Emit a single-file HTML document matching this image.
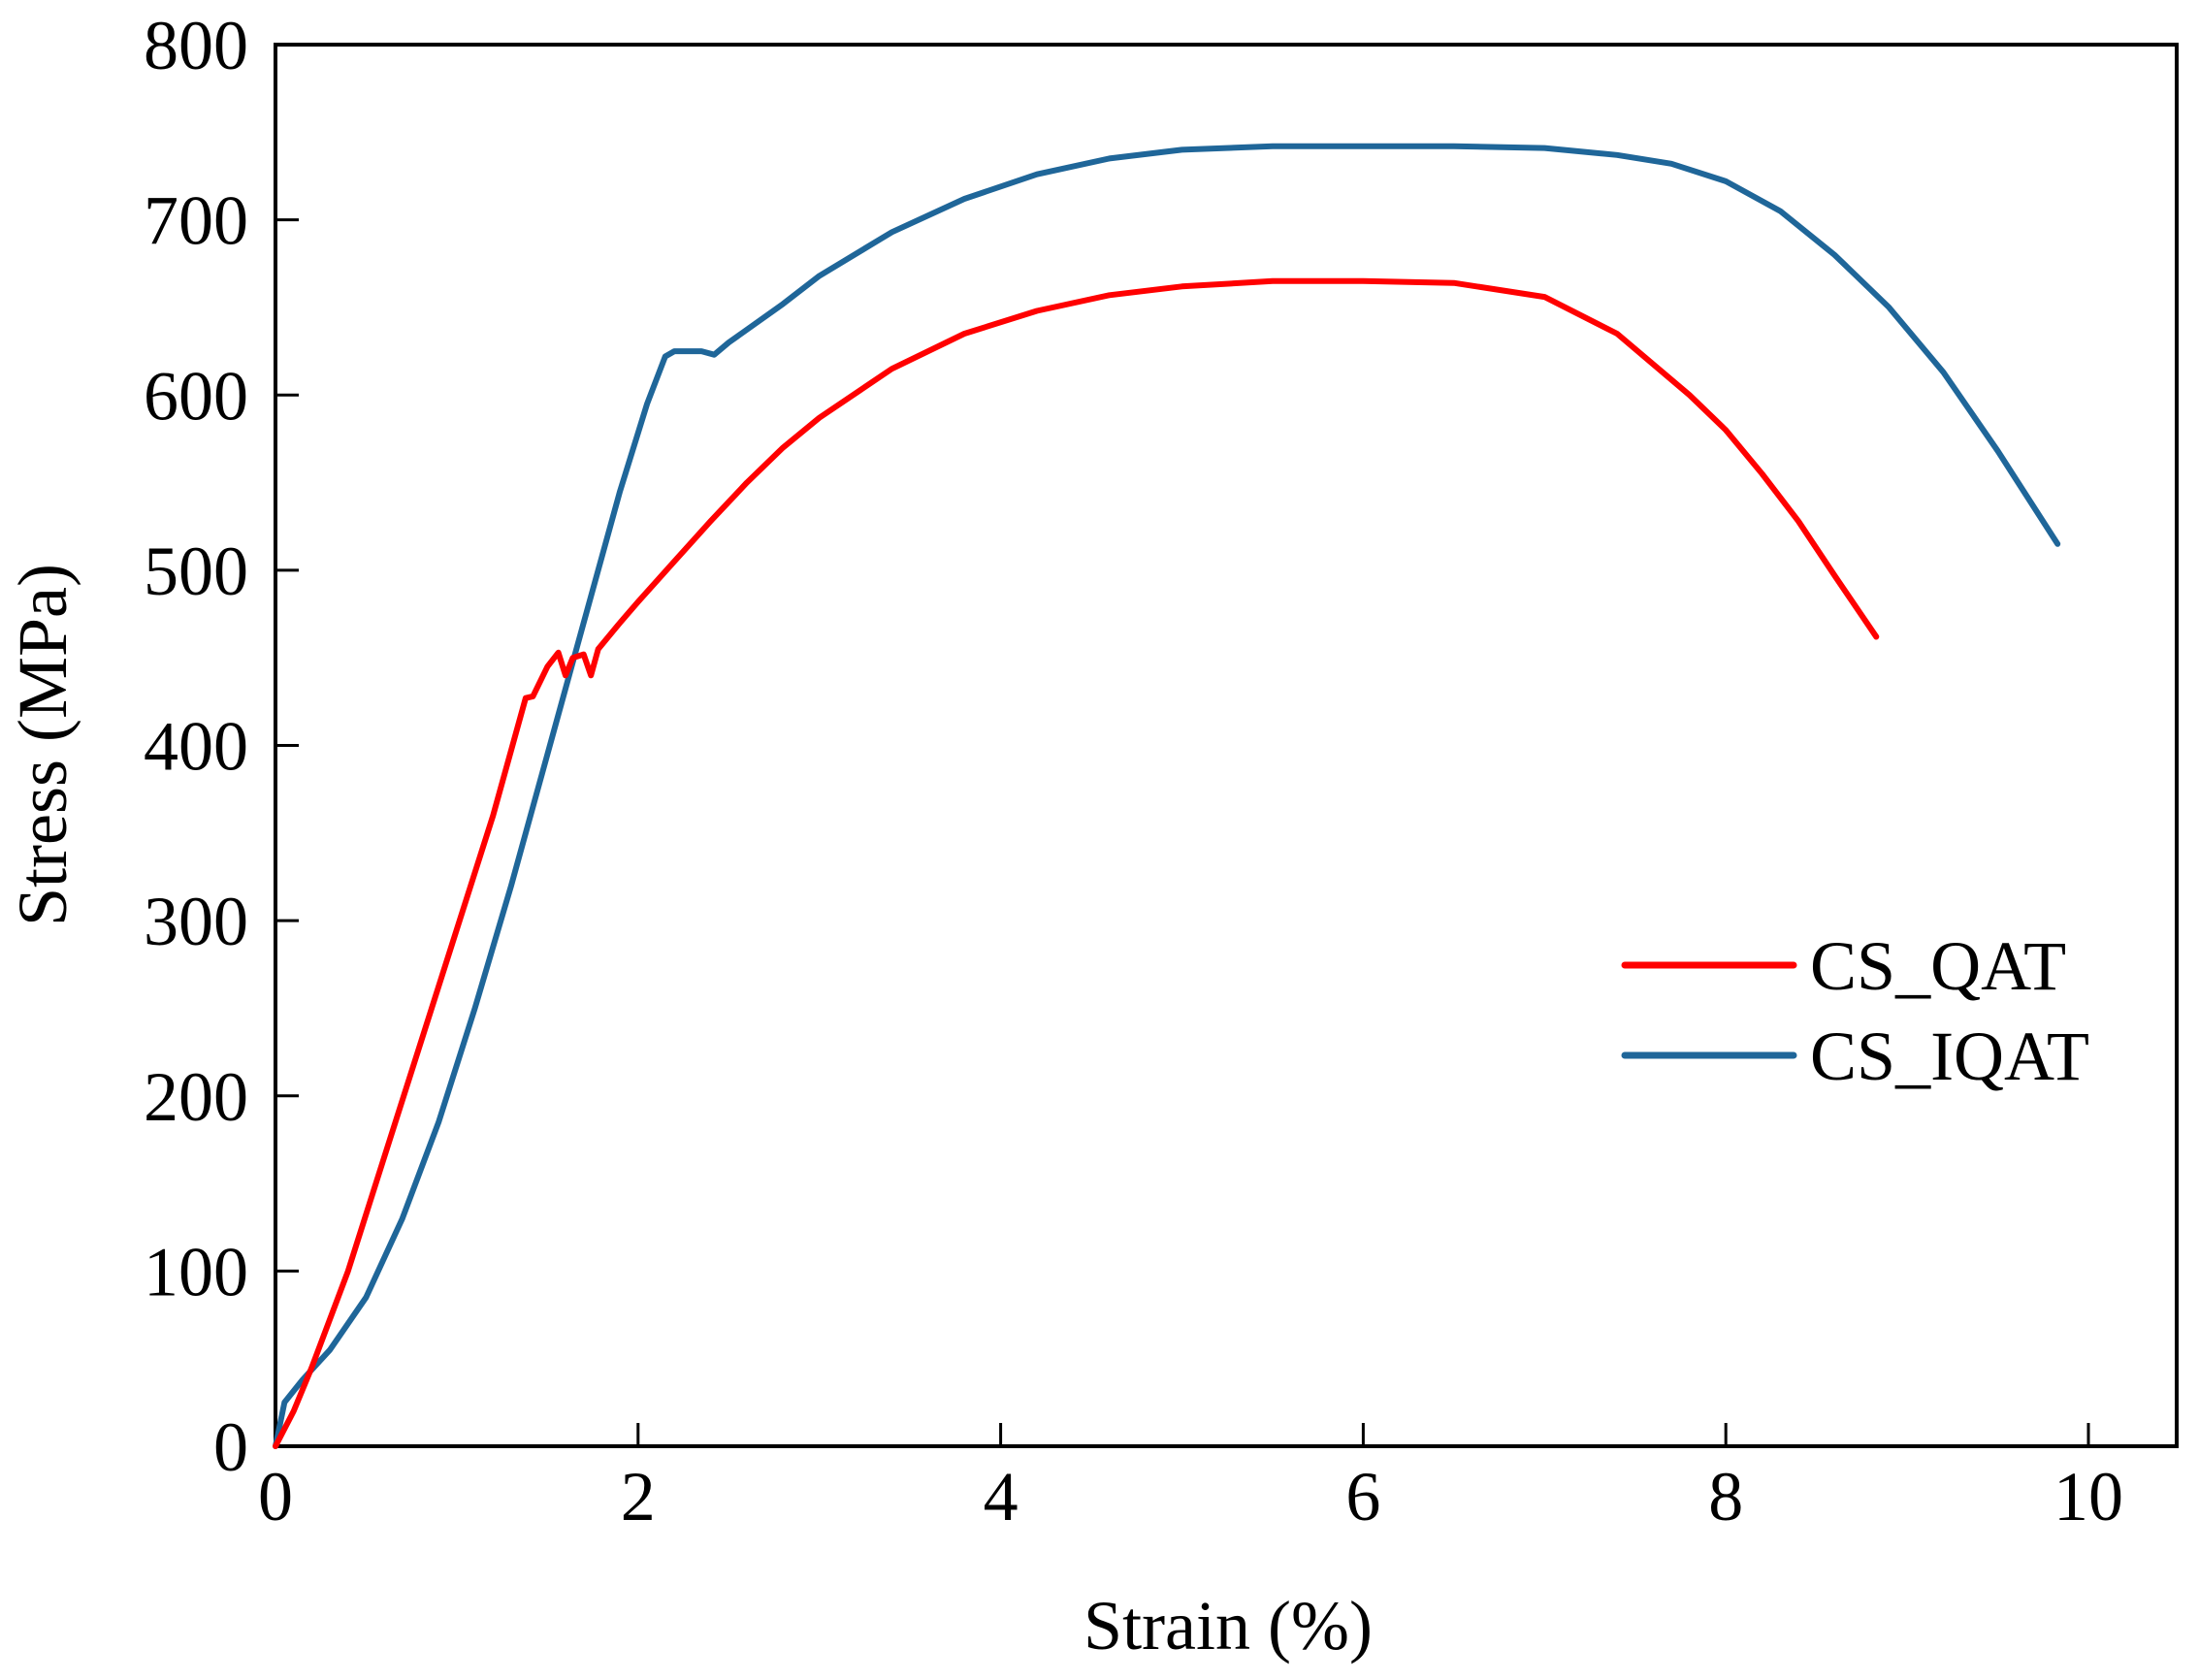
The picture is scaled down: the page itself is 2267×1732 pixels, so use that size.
<!DOCTYPE html>
<html><head><meta charset="utf-8"><style>
html,body{margin:0;padding:0;background:#fff;}
svg{display:block;font-family:"Liberation Serif",serif;}
</style></head><body>
<svg id="chart" width="2267" height="1732" viewBox="0 0 2267 1732">
<g id="axes"></g>
<g id="series"></g>
<g id="legend">
 <line x1="1675" y1="995" x2="1849" y2="995" stroke="#ff0000" stroke-width="7" stroke-linecap="round"/>
 <text x="1866" y="1020" font-size="72">CS_QAT</text>
 <line x1="1675" y1="1088" x2="1849" y2="1088" stroke="#1f6699" stroke-width="7" stroke-linecap="round"/>
 <text x="1866" y="1113" font-size="72">CS_IQAT</text>
</g>
<text x="1266" y="1700" font-size="72" text-anchor="middle">Strain (%)</text>
<text transform="translate(68,768) rotate(-90)" font-size="72" text-anchor="middle">Stress (MPa)</text>
</svg>
<script>
const xTicks = [0, 2, 4, 6, 8, 10];
const yTicks = [0, 100, 200, 300, 400, 500, 600, 700, 800];
const qatStrain = [0,0.1,0.2,0.4,0.6,0.8,1.0,1.2,1.38,1.42,1.5,1.56,1.6,1.64,1.7,1.74,1.78,1.9,2.0,2.2,2.4,2.6,2.8,3.0,3.4,3.8,4.2,4.6,5.0,5.5,6.0,6.5,7.0,7.4,7.8,8.0,8.2,8.4,8.6,8.83];
const qatStress = [0,20,45,100,165,230,295,360,427,428,445,453,440,450,452,440,455,470,482,505,528,550,570,587,615,635,648,657,662,665,665,664,656,635,600,580,555,528,497,462];
const iqatStrain = [0,0.05,0.15,0.3,0.5,0.7,0.9,1.1,1.3,1.5,1.7,1.9,2.05,2.15,2.2,2.35,2.42,2.5,2.8,3.0,3.4,3.8,4.2,4.6,5.0,5.5,6.0,6.5,7.0,7.4,7.7,8.0,8.3,8.6,8.9,9.2,9.5,9.83];
const iqatStress = [0,25,38,55,85,130,185,250,320,395,470,545,595,622,625,625,623,630,652,668,693,712,726,735,740,742,742,742,741,737,732,722,705,680,650,613,568,515];

const X0 = 284, X1 = 2153, XMAX = 10.5, RIGHT = 2244;
const Y0 = 1491, Y1 = 46;
function sx(v){ return X0 + v * (X1 - X0) / 10; }
function sy(v){ return Y0 - v * (Y0 - Y1) / 800; }
const NS = "http://www.w3.org/2000/svg";
const axes = document.getElementById('axes');
const series = document.getElementById('series');
function mk(tag, attrs, parent){ const e = document.createElementNS(NS, tag); for (const k in attrs) e.setAttribute(k, attrs[k]); parent.appendChild(e); return e; }

const frame = mk('rect', {x: X0, y: Y1, width: RIGHT - X0, height: Y0 - Y1, fill: 'none', stroke: '#000', 'stroke-width': 4}, axes);



xTicks.forEach(t => {
  const l = mk('line', {x1: sx(t), x2: sx(t), y1: Y0, y2: Y0 - 24, stroke: '#000', 'stroke-width': 3}, axes);
  
  
  const tx = mk('text', {x: sx(t), y: Y0 + 76, 'font-size': 72, 'text-anchor': 'middle'}, axes);
  tx.textContent = t;
  
  
});
yTicks.forEach(t => {
  const l = mk('line', {x1: X0, x2: X0 + 24, y1: sy(t), y2: sy(t), stroke: '#000', 'stroke-width': 3}, axes);
  
  
  const tx = mk('text', {x: 256, y: sy(t) + 25, 'font-size': 72, 'text-anchor': 'end'}, axes);
  tx.textContent = t;
  
  
});

function drawLine(xs, ys, color, name){
  const d = xs.map((x, i) => (i ? 'L' : 'M') + sx(x).toFixed(1) + ',' + sy(ys[i]).toFixed(1)).join(' ');
  const p = mk('path', {d: d, fill: 'none', stroke: color, 'stroke-width': 6, 'stroke-linejoin': 'round', 'stroke-linecap': 'round'}, series);
  
  
}
drawLine(iqatStrain, iqatStress, '#1f6699', 'cs-iqat-line');
drawLine(qatStrain, qatStress, '#ff0000', 'cs-qat-line');
</script>
</body></html>
